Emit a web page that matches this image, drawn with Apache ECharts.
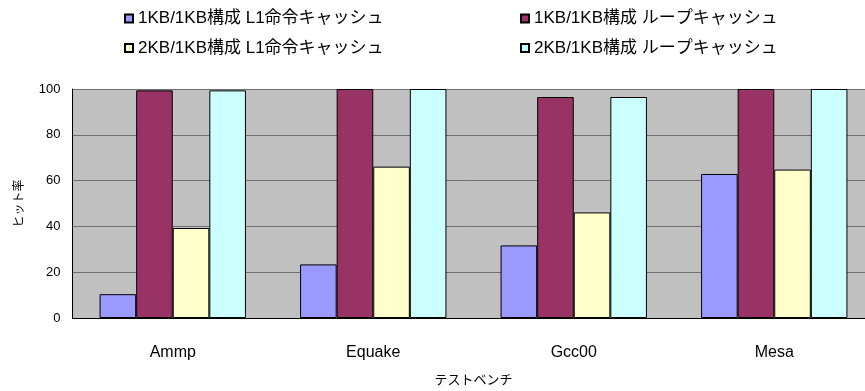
<!DOCTYPE html>
<html><head><meta charset="utf-8">
<script src="https://cdn.jsdelivr.net/npm/echarts@6/dist/echarts.min.js"></script>
<style>html,body{margin:0;padding:0;background:#fff}#c{width:865px;height:391px}</style>
</head><body><div id="c"></div>
<script>
const categories = ['Ammp', 'Equake', 'Gcc00', 'Mesa'];
const seriesNames = ['1KB/1KB構成 L1命令キャッシュ', '1KB/1KB構成 ループキャッシュ', '2KB/1KB構成 L1命令キャッシュ', '2KB/1KB構成 ループキャッシュ'];
const l1_1k = [10.4, 23.4, 31.7, 62.9];
const loop_1k = [99.4, 100, 96.5, 100];
const l1_2k = [39.3, 66.1, 46.1, 64.8];
const loop_2k = [99.4, 100, 96.5, 100];
const yTicks = [0, 20, 40, 60, 80, 100];
const colors = ['#9999FF', '#993366', '#FFFFCC', '#CCFFFF'];
const values = [l1_1k, loop_1k, l1_2k, loop_2k];

const FONT = '"Liberation Sans", Arial, "Noto Sans CJK JP", sans-serif';
const chart = echarts.init(document.getElementById('c'));
const legendPos = [[124, 10], [520, 10], [124, 39.5], [520, 39.5]];
chart.setOption({
  animation: false,
  textStyle: { fontFamily: FONT },
  legend: seriesNames.map((n, i) => ({
    data: [n], left: legendPos[i][0], top: legendPos[i][1], padding: 0,
    itemWidth: 8, itemHeight: 8, itemGap: 5,
    textStyle: { fontSize: 17, color: '#000', fontFamily: FONT },
    icon: 'rect'
  })),
  grid: { left: 72.5, right: -9.5, top: 89, bottom: 73, show: true, backgroundColor: '#C0C0C0', borderWidth: 0, outerBoundsMode: 'none', containLabel: false },
  xAxis: {
    type: 'category', data: categories,
    name: 'テストベンチ', nameLocation: 'middle', nameGap: 56,
    nameTextStyle: { fontSize: 13, color: '#000' },
    axisLine: { lineStyle: { color: '#000', width: 1 } },
    axisTick: { inside: true, length: 6, lineStyle: { color: '#000' } },
    axisLabel: { fontSize: 16, color: '#000', margin: 27 }
  },
  yAxis: {
    type: 'value', min: yTicks[0], max: yTicks[yTicks.length - 1], interval: yTicks[1] - yTicks[0],
    name: 'ヒット率', nameLocation: 'middle', nameGap: 47, nameRotate: 90,
    nameTextStyle: { fontSize: 12, color: '#000' },
    axisLine: { show: true, lineStyle: { color: '#000', width: 1 } },
    axisTick: { show: false },
    axisLabel: { fontSize: 13, color: '#000', margin: 12 },
    splitLine: { lineStyle: { color: '#707070', width: 1 } }
  },
  series: seriesNames.map((n, i) => ({
    name: n, type: 'bar', data: values[i],
    barGap: '0%', barCategoryGap: '27%',
    itemStyle: { color: colors[i], borderColor: '#000', borderWidth: 1 }
  }))
});
</script></body></html>
